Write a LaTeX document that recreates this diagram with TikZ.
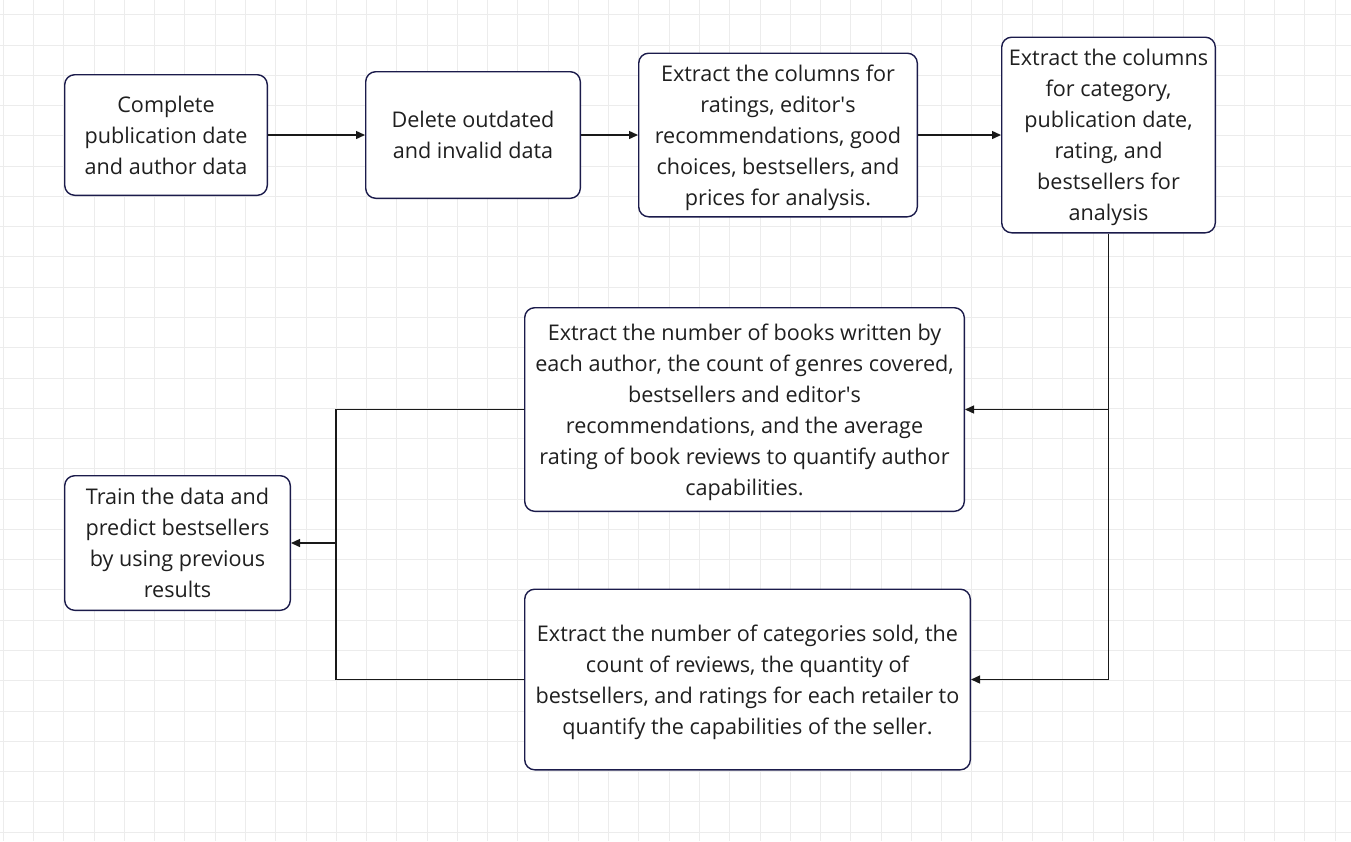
\documentclass[tikz,border=0pt]{standalone}
\usepackage{fontspec}
\setmainfont{Open Sans}
\usetikzlibrary{positioning,arrows.meta}
\definecolor{navy}{HTML}{1B1B4B}
\begin{document}
\begin{tikzpicture}[x=1pt, y=-1pt,
    box/.style={rectangle, rounded corners=10pt, draw=navy, line width=1.4pt, fill=white, align=center, inner sep=0pt, text depth=-4pt, text=black!88, font=\fontsize{21.6}{31}\selectfont},
    gridline/.style={draw=gray!15, line width=1pt},
    link/.style={draw=black!90, line width=1.4pt},
    flow/.style={link, -{Triangle[length=9pt, width=8pt]}}
]
    % Background grid
    \useasboundingbox (0,0) rectangle (1351,841);
    \fill[white] (0,0) rectangle (1351,841);
    \foreach \i in {0,...,44} \draw[gridline] (3.3+30.27*\i,0) -- ++(0,841);
    \foreach \j in {0,...,27} \draw[gridline] (0,14.8+30.27*\j) -- ++(1351,0);

    % Top row
    \node[box, minimum width=202.6pt, minimum height=120.6pt] (complete) at (166,135) {Complete\\publication date\\and author data};
    \node[box, minimum width=214.6pt, minimum height=126.6pt, right=97pt of complete] (delete) {Delete outdated\\and invalid data};
    \node[box, minimum width=278.6pt, minimum height=163.6pt, right=57pt of delete] (columns) {Extract the columns for\\ratings, editor\textquotesingle s\\recommendations, good\\choices, bestsellers, and\\prices for analysis.};
    \node[box, minimum width=213.6pt, minimum height=195.6pt, right=83pt of columns] (category) {Extract the columns\\for category,\\publication date,\\rating, and\\bestsellers for\\analysis};

    % Feature boxes
    \node[box, minimum width=439.6pt, minimum height=203.6pt] (author) at (744.5,409.5) {Extract the number of books written by\\each author, the count of genres covered,\\bestsellers and editor\textquotesingle s\\recommendations, and the average\\rating of book reviews to quantify author\\capabilities.};
    \node[box, minimum width=445.6pt, minimum height=180.6pt] (seller) at (747.5,679.5) {Extract the number of categories sold, the\\count of reviews, the quantity of\\bestsellers, and ratings for each retailer to\\quantify the capabilities of the seller.};

    % Result box
    \node[box, minimum width=225.6pt, minimum height=134.6pt] (train) at (177.5,543) {Train the data and\\predict bestsellers\\by using previous\\results};

    % Connectors
    \draw[flow] (complete) -- (delete);
    \draw[flow] (delete) -- (columns);
    \draw[flow] (columns) -- (category);
    \draw[flow] (category.south) |- (author.east);
    \draw[flow] (category.south) |- (seller.east);
    \coordinate (merge) at (336,543);
    \draw[link] (author.west) -| (merge);
    \draw[link] (seller.west) -| (merge);
    \draw[flow] (merge) -- (train.east);
\end{tikzpicture}
\end{document}
